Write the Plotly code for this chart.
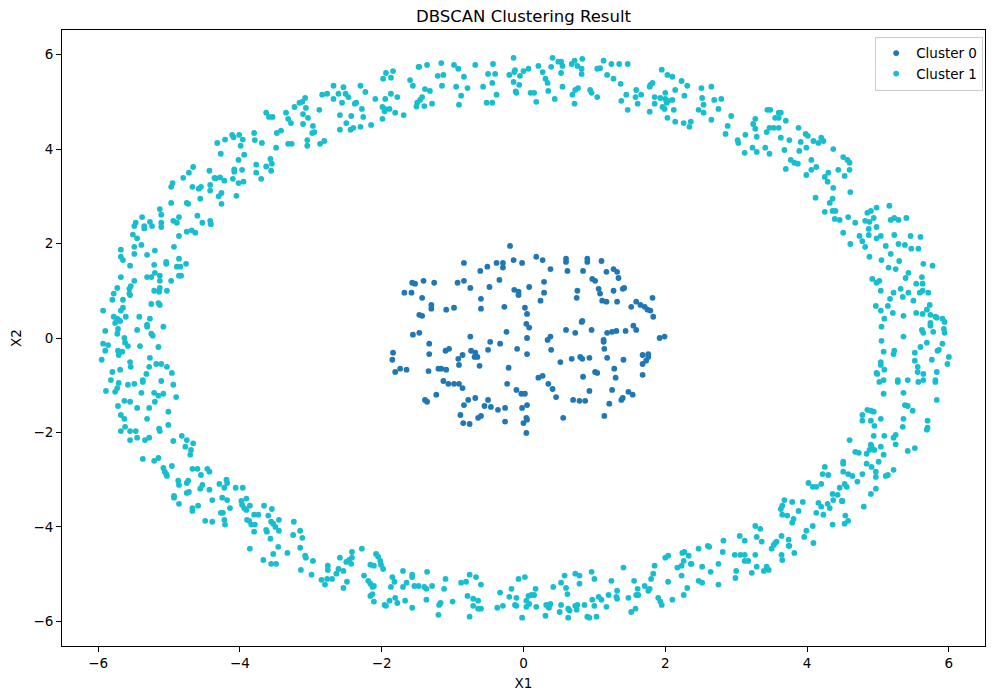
import plotly.graph_objects as go

# ---------------- data ----------------
cluster_names = ["Cluster 0", "Cluster 1"]
cluster_colors = ["#1f77b4", "#17becf"]
tick_values = [-6, -4, -2, 0, 2, 4, 6]

# Cluster 0 : inner blob
inner_left = [
    (-0.19,1.95),(-0.14,1.65),(-0.02,1.59),(-0.84,1.59),(-0.61,1.42),(-0.51,1.51),(-0.38,1.59),(-0.29,1.59),(-0.29,1.49),(-0.34,1.23),(-0.48,1.08),(-0.13,1.02),(-0.07,0.98),(-0.07,0.91),(-0.84,1.21),(-0.75,1.06),(-0.93,1.17),(-0.60,0.83),(-0.60,0.62),(-0.27,0.66),
    (-1.57,1.17),(-1.53,1.15),(-1.41,1.21),(-1.26,1.17),(-1.68,0.96),(-1.58,0.96),(-1.43,0.85),(-1.30,0.70),(-1.30,0.62),(-1.09,0.60),(-0.98,0.64),(-1.47,0.49),(-1.43,0.47),
    (-1.56,0.07),(-1.47,0.11),(-1.33,-0.12),(-1.33,-0.34),(-1.10,-0.27),(-1.05,-0.23),(-0.75,0.03),(-0.47,-0.08),(-0.50,-0.25),(-0.33,-0.12),(-0.24,0.13),(-0.09,-0.23),
    (-1.84,-0.31),(-1.85,-0.46),(-1.81,-0.72),(-1.74,-0.65),(-1.65,-0.67),(-1.34,-0.70),(-1.20,-0.65),(-1.16,-0.65),(-1.09,-0.67),(-0.92,-0.44),(-0.86,-0.36),(-0.91,-0.57),(-0.74,-0.27),(-0.68,-0.31),(-0.65,-0.40),(-0.69,-0.40),(-0.62,-0.59),(-0.21,-0.63),
    (-1.13,-0.91),(-1.06,-0.97),(-0.98,-0.97),(-0.91,-0.97),(-0.86,-1.06),(-0.23,-0.97),(-0.10,-1.10),(-0.03,-1.18),(-1.39,-1.31),(-1.36,-1.35),(-1.23,-1.20),(-0.78,-1.31),(-0.84,-1.42),(-0.68,-1.27),(-0.50,-1.31),(-0.55,-1.44),(-0.46,-1.46),(-0.36,-1.52),(-0.26,-1.48),(-0.02,-1.48),
    (-0.89,-1.63),(-0.85,-1.80),(-0.76,-1.82),(-0.64,-1.69),(-0.60,-1.65),(-0.26,-1.77),(0.00,-1.80),
]
inner_right = [
    (0.18,1.72),(0.27,1.65),(0.38,1.46),(0.60,1.68),(0.60,1.61),(0.90,1.68),(0.90,1.61),(1.10,1.63),(0.62,1.42),(0.84,1.42),(1.17,1.40),(1.27,1.46),(1.32,1.40),(1.34,1.27),(0.97,1.25),(1.01,1.21),(1.06,1.04),(1.08,0.94),(1.27,1.00),(1.40,1.04),(1.42,1.06),(0.29,1.19),(0.08,1.08),(0.29,0.96),(0.24,0.79),(0.76,1.00),(0.75,0.85),(1.11,0.79),(1.17,0.77),(1.32,0.77),
    (1.59,0.77),(1.65,0.70),(1.71,0.66),(1.75,0.60),(1.79,0.58),(1.52,0.66),(1.82,0.85),(1.83,0.45),
    (0.02,0.64),(0.05,0.51),(0.04,0.30),(0.08,0.22),(0.05,0.00),(0.05,-0.34),(0.60,0.17),(0.73,0.11),(0.82,0.34),(0.83,0.36),(0.96,0.17),(1.18,0.11),(1.25,0.13),(1.31,0.15),(1.44,0.15),(1.55,0.26),(1.59,0.17),(1.13,-0.04),(1.13,-0.08),(1.14,-0.23),(0.38,0.03),(0.34,-0.04),(0.39,-0.25),(0.52,-0.51),(0.68,-0.44),(0.80,-0.40),(0.83,-0.44),(0.93,-0.42),(1.18,-0.42),(1.41,-0.46),(1.68,-0.36),(1.76,-0.34),(1.76,-0.40),(1.73,-0.48),(1.68,-0.55),(1.92,0.00),(1.99,0.03),
    (0.21,-0.84),(0.27,-0.80),(0.35,-0.97),(0.41,-1.08),(0.46,-1.25),(0.84,-0.82),(1.01,-0.72),(1.04,-0.74),(1.28,-0.65),(1.30,-0.84),(1.25,-1.10),(0.93,-1.12),(0.70,-1.31),(0.79,-1.33),(0.87,-1.33),(1.21,-1.39),(1.40,-1.27),(1.38,-1.31),(1.48,-1.14),(1.54,-1.20),(1.68,-0.78),(0.56,-1.69),(1.14,-1.65),
    (0.02,-1.18),(0.05,-1.42),(0.04,-1.69),(0.05,-1.73),(0.04,-2.01),
]

# Cluster 1 : outer ring
ring_top_left = [
    (-3.63,4.77),(-3.59,4.68),(-3.54,4.68),(-3.35,4.77),(-3.32,4.64),(-3.28,4.55),(-3.23,4.89),
    (-3.48,4.34),(-3.42,4.39),(-3.49,4.03),(-3.32,4.11),(-3.27,4.11),
    (-3.80,4.34),(-3.79,4.19),(-3.69,4.13),(-4.11,4.30),(-4.09,4.25),(-4.01,4.30),(-3.96,4.20),(-3.99,4.07),(-3.94,3.88),(-4.02,3.77),(-4.21,4.20),(-4.32,4.13),(-4.27,3.90),
    (-3.57,3.79),(-3.55,3.69),(-3.63,3.63),(-3.56,3.54),(-3.70,3.37),(-3.77,3.67),(-3.77,3.50),
    (-4.08,3.57),(-4.08,3.52),(-3.97,3.56),(-4.10,3.37),(-4.02,3.28),(-3.95,3.31),(-4.05,3.01),
    (-4.43,3.54),(-4.36,3.39),(-4.28,3.40),(-4.22,3.33),(-4.34,3.38),(-4.42,3.24),(-4.42,3.12),(-4.30,3.00),(-4.26,3.07),(-4.26,2.84),
    (-4.66,3.62),(-4.72,3.50),(-4.80,3.39),(-4.95,3.28),(-4.97,3.20),(-4.67,3.20),(-4.58,3.16),(-4.55,3.20),(-4.56,2.95),(-4.75,2.86),(-4.73,2.84),(-4.97,2.86),
    (-5.13,2.73),(-5.11,2.61),(-5.38,2.56),(-5.11,2.44),(-5.11,2.35),(-5.27,2.46),(-5.24,2.37),(-5.35,2.37),(-5.35,2.32),(-5.47,2.44),(-5.49,2.37),(-5.51,2.19),(-4.94,2.48),(-4.89,2.44),(-4.86,2.56),(-4.60,2.59),(-4.53,2.44),(-4.42,2.48),(-4.41,2.41),(-4.75,2.25),(-4.68,2.28),(-4.63,2.23),(-4.86,2.16),
]
ring_top_mid_left = [
    (-0.14,5.93),(-0.20,5.57),(-0.12,5.67),(-0.13,5.63),(-0.05,5.55),(0.00,5.65),(-0.14,5.42),(-0.06,5.36),(-0.11,5.22),(-0.10,5.19),
    (-0.43,5.80),(-0.50,5.59),(-0.40,5.59),(-0.44,5.40),(-0.57,5.32),(-0.38,5.15),(-0.52,4.98),(-0.44,4.98),
    (-0.68,5.78),(-0.98,5.78),(-0.92,5.70),(-0.84,5.53),(-0.95,5.32),(-0.79,5.29),(-0.88,5.13),(-0.91,4.94),
    (-1.16,5.82),(-1.21,5.55),(-1.13,5.57),(-1.15,5.34),
    (-1.36,5.78),(-1.48,5.74),(-1.47,5.74),(-1.60,5.46),(-1.56,5.34),(-1.39,5.27),(-1.32,5.23),(-1.43,5.10),(-1.46,5.04),(-1.50,4.98),(-1.51,4.90),(-1.40,4.91),(-1.29,4.96),
    (-1.94,5.61),(-1.84,5.65),(-1.98,5.49),(-1.87,5.51),(-1.87,5.17),(-1.78,5.10),(-1.95,5.06),(-2.09,5.06),
    (-1.99,4.89),(-1.96,4.85),(-1.96,4.80),(-1.89,4.85),(-1.81,4.77),(-1.69,4.72),(-1.99,4.64),(-2.15,4.51),
    (-2.30,5.34),(-2.23,5.21),(-2.36,4.98),(-2.38,4.96),(-2.28,4.85),(-2.26,4.68),(-2.43,4.70),(-2.50,4.55),(-2.59,4.72),(-2.40,4.45),(-2.44,4.41),(-2.30,4.47),(-2.59,4.41),
    (-2.68,5.34),(-2.61,5.17),(-2.54,5.31),(-2.51,5.17),(-2.47,5.10),(-2.68,5.06),(-2.56,4.98),
    (-2.84,5.15),(-2.77,5.17),(-2.88,4.83),
    (-3.08,5.08),(-3.12,5.00),(-3.16,4.98),(-3.07,4.87),(-3.11,4.74),(-3.04,4.66),(-3.11,4.53),(-2.97,4.49),(-2.95,4.36),(-2.98,4.34),(-3.05,4.19),(-3.05,4.07),(-2.81,4.17),(-2.87,4.11),
]
ring_top_mid_right = [
    (0.07,5.70),(0.21,5.76),(0.27,5.63),(0.31,5.49),(0.34,5.40),(0.10,5.19),(0.15,5.19),(0.18,5.00),(0.35,5.23),(0.44,5.06),
    (0.41,5.93),(0.39,5.74),(0.49,5.85),(0.53,5.85),(0.55,5.76),(0.53,5.61),(0.55,5.32),
    (0.68,5.80),(0.72,5.87),(0.76,5.76),(0.82,5.70),(0.82,5.59),(0.83,5.91),(0.77,5.29),(0.73,5.25),(0.69,5.15),(0.72,4.96),
    (0.94,5.25),(0.96,5.19),(1.04,5.10),
    (1.13,5.87),(1.24,5.80),(1.35,5.80),(1.47,5.80),(1.04,5.70),(1.08,5.71),(1.18,5.57),(1.27,5.49),(1.37,5.38),(1.45,5.15),(1.38,5.02),(1.47,4.83),
    (1.59,5.25),(1.66,5.15),(1.58,5.10),(1.61,4.96),(1.78,4.79),(1.78,5.32),(1.82,5.40),(1.79,5.36),(1.85,5.10),(1.85,4.96),(1.95,5.68),(2.03,5.57),(2.10,5.53),(2.23,5.44),(2.31,5.34),
    (1.93,5.08),(2.00,5.19),(2.00,5.06),(2.04,5.02),(2.10,5.04),(2.02,4.98),(1.96,4.89),(1.99,4.85),(2.12,4.83),(2.03,4.66),(2.14,5.25),(2.27,5.13),(2.14,4.58),(2.26,4.55),(2.36,4.58),(2.34,4.47),
    (2.51,5.29),(2.65,5.32),(2.52,5.08),(2.54,4.94),(2.47,4.83),(2.54,4.77),(2.69,5.04),(2.79,5.06),(2.75,4.85),(2.65,4.62),(2.93,4.70),(2.88,4.49),(2.85,4.32),(3.02,4.19),(3.03,4.13),(3.13,4.30),(3.12,3.92),(3.23,4.03),(3.24,4.53),
]
ring_top_right = [
    (3.27,4.64),(3.27,4.43),(3.29,4.26),(3.29,3.94),(3.41,4.03),(3.47,3.90),
    (3.44,4.83),(3.48,4.83),(3.60,4.77),(3.55,4.66),(3.60,4.66),(3.70,4.60),(3.63,4.77),
    (3.43,4.36),(3.47,4.45),(3.53,4.45),(3.60,4.45),(3.63,4.24),(3.75,4.19),(3.68,3.98),(3.88,4.45),(3.91,4.15),(3.89,3.96),(3.98,4.32),(4.01,4.28),(3.99,4.03),(4.09,4.17),(4.16,4.13),(4.20,4.24),(4.23,4.17),(4.37,4.00),
    (3.77,3.77),(3.82,3.71),(3.87,3.69),(3.70,3.58),(4.06,3.77),(4.06,3.56),(4.13,3.62),(3.99,3.45),(4.25,3.41),(4.30,3.50),(4.29,3.31),(4.44,3.56),(4.53,3.43),(4.51,3.83),(4.57,3.77),(4.60,3.71),(4.60,3.56),(4.37,3.18),(4.61,3.09),
    (4.12,2.97),(4.32,2.86),(4.36,2.95),(4.25,2.67),(4.36,2.69),(4.40,2.69),(4.39,2.52),(4.46,2.50),(4.58,2.56),(4.68,2.44),(4.82,2.48),(4.85,2.65),(4.90,2.69),(4.88,2.46),(4.94,2.54),(4.98,2.76),(4.87,2.31),(4.98,2.35),(4.51,2.23),(4.74,2.16),(4.87,2.18),(5.04,2.16),(5.16,2.80),(5.18,2.50),(5.23,2.54),(5.29,2.50),(5.40,2.54),(5.23,2.18),(5.46,2.16),(5.60,2.14),
]
ring_left = [
    (-5.45,2.11),(-5.39,1.97),(-4.93,1.93),(-5.68,1.87),(-5.49,1.93),(-5.49,1.78),(-5.31,1.76),(-5.20,1.85),(-5.68,1.72),(-5.65,1.65),(-5.55,1.53),(-5.21,1.55),(-5.04,1.61),(-5.04,1.57),(-4.86,1.68),(-4.89,1.51),(-4.84,1.51),(-4.76,1.57),
    (-5.68,1.29),(-5.49,1.21),(-5.31,1.29),(-5.25,1.29),(-5.20,1.38),(-5.13,1.32),(-5.13,1.21),(-4.97,1.21),(-4.86,1.32),(-4.83,1.32),
    (-5.73,1.06),(-5.78,0.94),(-5.80,0.81),(-5.65,0.81),(-5.56,1.04),(-5.54,1.10),(-5.55,0.91),(-5.56,0.94),(-5.21,1.00),(-5.13,1.06),(-5.14,0.98),(-5.03,1.00),
    (-5.25,0.72),(-5.15,0.74),(-5.13,0.70),(-5.93,0.58),(-5.65,0.64),(-5.68,0.58),(-5.78,0.45),(-5.73,0.41),(-5.76,0.32),(-5.69,0.36),(-5.61,0.45),(-5.42,0.45),(-5.27,0.41),(-5.31,0.28),(-5.31,0.24),(-5.08,0.24),
    (-5.90,0.15),(-5.72,0.19),(-5.73,0.09),(-5.45,0.17),(-5.25,0.09),(-5.23,0.05),(-5.63,0.00),(-5.62,-0.10),(-5.58,-0.17),(-5.93,-0.12),(-5.86,-0.15),(-5.90,-0.27),(-5.72,-0.27),(-5.66,-0.29),(-5.71,-0.36),(-5.41,-0.17),(-5.15,-0.19),(-5.95,-0.46),
    (-5.55,-0.51),(-5.54,-0.61),(-5.27,-0.42),(-5.28,-0.61),(-5.18,-0.55),(-5.11,-0.55),(-5.03,-0.61),(-5.80,-0.72),(-5.69,-0.67),(-5.32,-0.76),(-5.37,-0.89),(-5.37,-0.93),(-4.96,-0.74),(-5.82,-0.89),(-5.71,-0.95),(-5.73,-1.06),(-5.76,-1.14),(-5.89,-1.12),(-5.58,-0.99),(-5.49,-0.97),(-5.39,-1.16),(-5.21,-1.16),(-5.15,-1.22),(-5.08,-1.18),(-5.20,-1.35),(-5.11,-0.91),(-4.94,-0.99),(-4.90,-1.25),
    (-5.72,-1.44),(-5.63,-1.33),(-5.55,-1.35),(-5.45,-1.48),(-5.28,-1.48),(-5.01,-1.56),(-5.68,-1.63),(-5.63,-1.71),(-5.31,-1.71),(-5.62,-1.88),(-5.68,-1.97),(-5.55,-1.97),(-5.47,-1.97),(-5.14,-1.92),(-5.13,-1.97),(-5.01,-1.84),(-5.55,-2.16),(-5.45,-2.11),(-5.34,-2.16),(-5.28,-2.11),(-4.94,-2.18),(-4.82,-2.07),(-4.75,-2.16),(-4.66,-2.23),
]
ring_right = [
    (4.61,1.99),(4.78,2.05),(4.82,1.93),(4.88,1.72),(4.98,2.11),(5.11,1.95),(5.18,1.78),(5.05,1.65),(5.15,1.49),(5.25,1.46),(5.30,1.63),(5.29,1.99),(5.38,1.97),(5.47,1.89),(5.57,1.89),(5.64,1.57),(5.77,1.53),
    (4.92,1.25),(4.98,1.17),(5.02,1.21),(5.04,1.00),(5.39,1.27),(5.43,1.38),(5.62,1.29),(5.54,1.15),(5.63,1.15),(5.22,0.96),(5.32,1.04),(5.35,0.87),(5.43,0.96),(5.50,0.79),(5.59,0.96),(5.63,1.00),(5.71,0.96),(5.17,0.83),(5.14,0.68),(4.97,0.68),(5.04,0.58),(5.21,0.53),(5.36,0.47),(5.54,0.53),(5.63,0.51),(5.69,0.60),(5.73,0.70),(5.74,0.49),(5.81,0.45),(5.83,0.43),(5.91,0.41),(5.94,0.34),
    (5.09,0.41),(5.05,0.24),(5.05,-0.06),(5.08,-0.29),(5.23,-0.27),(5.22,-0.34),(5.36,0.03),(5.62,0.17),(5.64,0.11),(5.74,0.32),(5.74,0.26),(5.78,0.13),(5.93,0.19),(5.94,0.11),(5.69,-0.10),(5.60,-0.19),(5.52,-0.31),(5.91,-0.12),(5.86,-0.25),(5.84,-0.27),(6.00,-0.40),(5.98,-0.55),(5.76,-0.46),
    (5.04,-0.51),(5.04,-0.57),(5.09,-0.67),(4.98,-0.74),(4.99,-0.76),(5.02,-0.93),(5.08,-0.89),(5.28,-0.89),(5.28,-0.93),(5.42,-0.89),(5.52,-0.48),(5.56,-0.61),(5.56,-0.72),(5.64,-0.76),(5.64,-0.89),(5.57,-0.93),(5.81,-0.89),(5.81,-0.93),(5.83,-0.72),(5.08,-1.18),(5.36,-1.16),(5.83,-1.31),
    (5.38,-1.42),(5.42,-1.44),(5.49,-1.54),(4.85,-1.52),(4.90,-1.54),(4.94,-1.56),(4.78,-1.63),(4.78,-1.75),(4.90,-1.75),(5.04,-1.71),(4.95,-1.86),(5.36,-1.71),(5.35,-1.88),(5.70,-1.75),(5.69,-1.94),(5.70,-1.90),(4.60,-2.16),(4.94,-2.07),(5.09,-2.07),(5.22,-2.11),(5.25,-2.05),
]
ring_bottom_left = [
    (-5.37,-2.56),(-5.21,-2.60),(-5.15,-2.54),(-5.08,-2.75),(-5.06,-2.83),(-5.03,-2.92),(-5.04,-2.88),(-4.96,-2.71),(-4.77,-2.30),(-4.69,-2.37),(-4.70,-2.47),
    (-4.67,-2.77),(-4.60,-2.77),(-4.55,-2.90),(-4.46,-2.77),(-4.43,-2.83),(-4.87,-3.02),(-4.86,-3.11),(-4.75,-3.07),(-4.73,-3.02),(-4.75,-3.28),(-4.72,-3.26),(-4.93,-3.34),(-4.93,-3.38),(-4.86,-3.51),(-4.67,-3.60),(-4.67,-3.66),(-4.59,-3.55),(-4.56,-3.19),(-4.53,-3.11),(-4.43,-3.21),(-4.39,-3.43),
    (-4.29,-3.09),(-4.22,-3.17),(-4.19,-3.00),(-4.18,-3.07),(-4.06,-3.17),(-3.96,-3.17),(-4.25,-3.38),(-4.18,-3.43),(-4.14,-3.60),(-4.27,-3.70),(-4.24,-3.70),(-4.49,-3.87),(-4.39,-3.89),(-4.22,-3.85),(-4.21,-3.95),
    (-3.98,-3.45),(-3.91,-3.40),(-3.97,-3.53),(-3.94,-3.60),(-3.91,-3.64),(-3.86,-3.55),(-3.66,-3.55),(-3.55,-3.62),(-3.80,-3.74),(-3.74,-3.74),(-3.60,-3.76),(-3.90,-3.85),(-3.87,-3.87),(-3.84,-3.95),(-3.79,-3.95),(-3.56,-3.89),(-3.53,-3.93),(-3.45,-3.85),(-3.50,-4.00),(-3.63,-4.06),(-3.62,-4.10),(-3.45,-4.08),(-3.80,-4.10),(-3.57,-4.25),(-3.46,-4.42),(-3.53,-4.57),(-3.33,-4.55),(-3.86,-4.46),(-3.67,-4.70),(-3.56,-4.78),(-3.49,-4.78),(-3.24,-3.89),(-3.25,-4.17),
]
ring_bottom_mid_left = [
    (-3.15,-4.08),(-3.12,-4.23),(-3.15,-4.44),(-3.08,-4.61),(-3.07,-4.65),(-2.97,-4.72),(-3.14,-4.91),(-2.99,-5.01),
    (-2.85,-5.12),(-2.80,-5.22),(-2.77,-5.10),(-2.76,-4.82),(-2.76,-4.91),(-2.70,-5.10),(-2.64,-4.99),(-2.61,-4.89),(-2.59,-4.65),(-2.54,-4.93),(-2.54,-5.29),(-2.49,-5.16),(-2.50,-4.74),(-2.46,-4.70),(-2.43,-4.78),(-2.42,-4.65),(-2.42,-4.53),(-2.28,-4.46),
    (-2.25,-5.03),(-2.19,-5.14),(-2.16,-5.20),(-2.13,-5.27),(-2.11,-5.25),(-2.16,-5.46),(-2.13,-5.42),(-2.11,-5.58),(-2.16,-4.80),(-2.11,-4.82),(-2.08,-4.57),(-2.05,-4.63),(-2.02,-4.72),(-2.01,-4.80),(-1.98,-4.89),
    (-1.96,-5.65),(-1.94,-5.67),(-1.89,-5.56),(-1.85,-5.06),(-1.82,-5.16),(-1.87,-5.27),(-1.81,-5.50),(-1.78,-5.61),(-1.70,-4.93),(-1.67,-5.56),(-1.65,-5.18),(-1.70,-5.27),(-1.57,-5.01),(-1.57,-5.06),(-1.54,-5.25),(-1.48,-5.25),(-1.57,-5.71),(-1.40,-5.27),(-1.37,-5.31),(-1.36,-4.95),(-1.37,-5.54),(-1.29,-5.25),
    (-1.20,-5.86),(-1.17,-5.61),(-1.19,-5.65),(-1.12,-5.31),(-1.10,-5.10),(-1.00,-5.58),(-0.88,-5.18),(-0.81,-5.16),(-0.76,-5.01),(-0.79,-5.46),(-0.71,-5.52),(-0.64,-5.56),(-0.71,-5.67),(-0.67,-5.06),(-0.60,-5.22),(-0.76,-5.90),(-0.64,-5.73),(-0.60,-5.73),
    (-0.37,-5.71),(-0.29,-5.67),(-0.33,-5.39),(-0.17,-5.31),(-0.20,-5.48),(-0.12,-5.65),(-0.10,-5.67),(-0.10,-5.50),(-0.07,-5.10),(-0.02,-5.92),
]
ring_bottom_mid_right = [
    (0.02,-5.06),(0.04,-5.56),(0.04,-5.69),(0.08,-5.63),(0.07,-5.46),(0.11,-5.44),(0.15,-5.44),(0.17,-5.31),(0.18,-5.69),
    (0.31,-5.88),(0.32,-5.65),(0.35,-5.69),(0.38,-5.63),(0.36,-5.71),(0.42,-5.27),(0.51,-5.80),(0.53,-5.65),(0.53,-5.18),(0.58,-5.03),(0.60,-5.29),(0.62,-5.42),(0.63,-5.73),(0.65,-5.77),(0.63,-5.92),
    (0.73,-4.99),(0.79,-5.03),(0.79,-5.20),(0.73,-5.67),(0.76,-5.65),(0.75,-5.75),(0.86,-5.65),(0.90,-5.90),(0.93,-5.92),(0.96,-4.95),(1.00,-5.10),(0.97,-5.54),(1.00,-5.67),(1.03,-5.90),(1.06,-5.48),(1.10,-5.54),(1.17,-5.69),(1.20,-5.44),(1.24,-5.14),(1.31,-5.48),(1.32,-5.35),(1.32,-5.52),
    (1.41,-4.86),(1.48,-5.50),(1.52,-5.80),(1.58,-5.73),(1.56,-5.14),(1.61,-5.31),(1.59,-5.44),(1.62,-5.44),(1.71,-5.25),(1.76,-5.35),(1.78,-5.31),(1.80,-5.10),(1.83,-4.99),(1.85,-4.82),(1.90,-5.50),(1.93,-5.58),(1.95,-5.65),(2.04,-5.16),(2.10,-5.54),
    (2.00,-4.65),(2.04,-4.61),(2.17,-4.86),(2.23,-5.03),(2.23,-4.82),(2.24,-4.55),(2.27,-4.53),(2.26,-4.72),(2.33,-4.61),(2.36,-4.78),(2.37,-4.78),(2.31,-5.29),(2.26,-5.44),(2.47,-4.46),(2.47,-5.14),(2.52,-5.18),(2.52,-4.84),(2.60,-4.40),(2.62,-4.42),(2.64,-4.95),(2.75,-4.78),(2.75,-5.22),(2.81,-4.53),(2.82,-4.29),(2.98,-4.59),(2.99,-5.08),(3.00,-4.93),(3.05,-4.19),(3.06,-4.59),(3.12,-4.59),(3.12,-4.72),(3.12,-4.29),(3.17,-4.72),(3.22,-4.97),
]
ring_bottom_right = [
    (3.27,-3.98),(3.29,-4.21),(3.34,-4.04),(3.36,-4.31),(3.27,-4.59),(3.29,-4.84),(3.39,-4.93),(3.43,-4.84),(3.46,-4.91),
    (3.50,-4.46),(3.53,-4.38),(3.55,-4.34),(3.57,-4.31),(3.64,-4.19),(3.64,-4.59),(3.65,-4.70),(3.74,-4.27),(3.74,-4.40),(3.75,-4.40),(3.82,-4.55),
    (3.63,-3.62),(3.65,-3.55),(3.68,-3.43),(3.79,-3.47),(3.65,-3.74),(3.72,-3.76),(3.81,-3.83),(3.79,-3.91),(3.88,-3.66),(3.94,-3.47),
    (3.96,-4.21),(3.99,-4.08),(4.08,-3.98),(4.09,-4.34),(4.02,-3.07),(4.08,-3.15),(4.13,-3.15),(4.20,-3.09),(4.16,-3.49),(4.20,-3.57),(4.13,-3.70),(4.23,-3.74),(4.29,-3.51),(4.32,-3.60),(4.36,-3.95),(4.36,-3.30),(4.37,-3.43),(4.43,-3.32),(4.25,-2.73),(4.22,-2.88),(4.30,-2.90),
    (4.46,-3.17),(4.50,-3.45),(4.49,-3.45),(4.53,-3.09),(4.56,-3.15),(4.54,-3.76),(4.53,-3.93),(4.58,-3.87),(4.51,-2.83),(4.51,-2.66),(4.51,-2.62),(4.58,-2.88),(4.64,-2.92),(4.71,-3.04),(4.78,-2.88),(4.80,-3.57),
    (4.68,-2.41),(4.73,-2.43),(4.84,-2.45),(4.88,-2.37),(4.91,-2.30),(4.95,-2.37),(4.90,-2.26),(5.04,-2.30),(5.08,-2.47),(4.84,-2.66),(4.91,-2.73),(4.97,-2.83),(4.97,-2.94),(5.01,-2.62),(4.90,-3.30),(4.97,-3.19),(5.11,-2.92),(5.14,-2.90),(5.22,-2.79),(5.25,-2.25),(5.42,-2.39),(5.52,-2.33),
]

cluster0 = inner_left + inner_right
cluster1 = (ring_top_left + ring_top_mid_left + ring_top_mid_right + ring_top_right
            + ring_left + ring_right + ring_bottom_left + ring_bottom_mid_left
            + ring_bottom_mid_right + ring_bottom_right)

# ---------------- figure ----------------
FONT = "DejaVu Sans, Arial, sans-serif"
fig = go.Figure()
for name, color, pts in zip(cluster_names, cluster_colors, [cluster0, cluster1]):
    fig.add_trace(go.Scatter(
        x=[p[0] for p in pts], y=[p[1] for p in pts],
        mode="markers", name=name,
        marker=dict(color=color, size=5.8, line=dict(width=0)),
    ))

axis_common = dict(
    showgrid=False, zeroline=False, showline=True, linecolor="black", linewidth=1,
    mirror=True, ticks="outside", ticklen=5, tickwidth=1, tickcolor="black",
    tickvals=tick_values, tickfont=dict(family=FONT, size=13.5, color="black"),
    automargin=False,
)
fig.update_xaxes(range=[-6.51, 6.51], title=dict(text="X1", font=dict(family=FONT, size=13.5, color="black"), standoff=8), **axis_common)
fig.update_yaxes(range=[-6.52, 6.52], title=dict(text="X2", font=dict(family=FONT, size=13.5, color="black"), standoff=10), **axis_common)

# the page adds an 8px body margin, so the figure is 8px smaller and shifted
fig.update_layout(
    width=991, height=691,
    margin=dict(l=54, r=14, t=22, b=53),
    paper_bgcolor="white", plot_bgcolor="white",
    title=dict(text="DBSCAN Clustering Result", x=0.5, xref="paper", xanchor="center",
               y=1 - 8 / 691, yref="container", yanchor="middle",
               font=dict(family=FONT, size=16.5, color="black")),
    legend=dict(x=0.998, y=0.989, xanchor="right", yanchor="top",
                bgcolor="rgba(255,255,255,0.8)", bordercolor="#cccccc", borderwidth=1,
                font=dict(family=FONT, size=13.5, color="black"), itemwidth=30),
    showlegend=True,
)

fig.write_html("out.html")
